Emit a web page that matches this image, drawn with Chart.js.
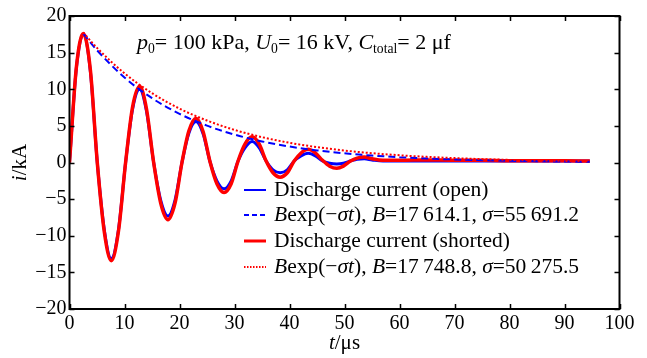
<!DOCTYPE html>
<html>
<head>
<meta charset="utf-8">
<script src="https://cdn.jsdelivr.net/npm/chart.js@4/dist/chart.umd.min.js"></script>
<style>
  html, body { margin: 0; padding: 0; background: #fff; }
  #wrap { width: 647px; height: 358px; }
</style>
</head>
<body>
<div id="wrap"><canvas id="c" width="647" height="358"></canvas></div>
<script>
// Sample times (µs) for the measured discharge currents
const timeUs = [0, 1.25, 2.5, 3.8, 5.05, 6.35, 7.6, 8.9, 10.2, 11.45, 12.75, 14.0, 15.3, 16.6, 17.9,
  19.2, 20.45, 21.7, 23.0, 24.3, 25.55, 26.8, 28.1, 29.4, 30.65, 31.9, 33.2, 34.5, 35.75, 37.0, 38.3,
  39.6, 40.85, 42.1, 43.4, 44.7, 46.0, 47.3, 48.6, 49.8, 51.1, 52.3, 53.6, 55.0, 57, 60, 65, 70, 75,
  80, 85, 90, 94.6];

// Discharge current, open gap (kA)
const currentOpen = [0, 12.9, 17.5, 12.4, 0, -9.3, -13.1, -9.2, 0, 7.2, 10.0, 7.0, 0, -5.2, -7.3,
  -5.1, 0, 4.0, 5.6, 3.9, 0.1, -2.5, -3.6, -2.5, 0.2, 2.0, 2.85, 2.0, 0.2, -1.0, -1.4,
  -1.0, 0.2, 0.9, 1.25, 0.9, 0.2, -0.1, -0.2, -0.1, 0.2, 0.45, 0.5, 0.35, 0.2, 0.2, 0.2, 0.2, 0.2,
  0.2, 0.2, 0.2, 0.2];

// Discharge current, shorted gap (kA)
const currentShorted = [0, 13.0, 17.6, 12.6, 0, -9.6, -13.4, -9.4, 0, 7.5, 10.4, 7.3, 0, -5.6, -7.8,
  -5.5, 0, 4.3, 6.05, 4.2, 0.1, -2.9, -4.1, -2.9, 0.2, 2.5, 3.5, 2.5, 0.2, -1.4, -2.0,
  -1.4, 0.2, 1.3, 1.8, 1.3, 0.3, -0.5, -0.8, -0.5, 0.2, 0.6, 0.75, 0.5, 0.3, 0.3, 0.35, 0.3, 0.3,
  0.25, 0.25, 0.25, 0.2];

// Fitted decay envelopes B·exp(−σt), counted from the first peak (kA)
const envTimeUs = [2.5, 5, 10, 15, 20, 25, 30, 35, 40, 45, 50, 55, 60, 65, 70, 75, 80, 85, 90, 94.6];
const envOpen = [17.61, 15.33, 11.60, 8.78, 6.65, 5.03, 3.81, 2.88, 2.18, 1.65, 1.25, 0.95, 0.72,
  0.54, 0.41, 0.31, 0.235, 0.18, 0.135, 0.10];
const envShorted = [17.75, 15.65, 12.17, 9.47, 7.36, 5.73, 4.45, 3.46, 2.69, 2.10, 1.63, 1.27, 0.99,
  0.77, 0.60, 0.46, 0.36, 0.28, 0.22, 0.17];

const xTicks = [0, 10, 20, 30, 40, 50, 60, 70, 80, 90, 100];
const yTicks = [-20, -15, -10, -5, 0, 5, 10, 15, 20];

const SERIF = '"Liberation Serif", "DejaVu Serif", "Times New Roman", serif';
const BLUE = '#0000ff';
const RED = '#ff0000';

const pts = (xs, ys) => xs.map((x, i) => ({ x: x, y: ys[i] }));

// Mixed-style text: parts are {t, it, sub}
function richWidth(ctx, parts, size) {
  let w = 0;
  for (const p of parts) {
    const s = p.sub ? size * 0.62 : size;
    ctx.font = (p.it ? 'italic ' : '') + s + 'px ' + SERIF;
    w += ctx.measureText(p.t).width;
  }
  return w;
}
function drawRich(ctx, parts, x, y, size, align) {
  let cx = x;
  if (align === 'center') cx = x - richWidth(ctx, parts, size) / 2;
  ctx.textBaseline = 'middle';
  ctx.textAlign = 'left';
  ctx.fillStyle = '#000';
  for (const p of parts) {
    const s = p.sub ? size * 0.62 : size;
    ctx.font = (p.it ? 'italic ' : '') + s + 'px ' + SERIF;
    ctx.fillText(p.t, cx, p.sub ? y + size * 0.28 : y);
    cx += ctx.measureText(p.t).width;
  }
}

const legendRows = [
  { color: BLUE, dash: [], width: 2, parts: [{ t: 'Discharge current (open)' }] },
  { color: BLUE, dash: [5, 3], width: 2, parts: [
    { t: 'B', it: true }, { t: 'exp(\u2212' }, { t: '\u03c3t', it: true }, { t: '), ' },
    { t: 'B', it: true }, { t: '=17\u2009614.1, ' }, { t: '\u03c3', it: true }, { t: '=55\u2009691.2' }] },
  { color: RED, dash: [], width: 3, parts: [{ t: 'Discharge current (shorted)' }] },
  { color: RED, dash: [1.5, 1.5], width: 2, parts: [
    { t: 'B', it: true }, { t: 'exp(\u2212' }, { t: '\u03c3t', it: true }, { t: '), ' },
    { t: 'B', it: true }, { t: '=17\u2009748.8, ' }, { t: '\u03c3', it: true }, { t: '=50\u2009275.5' }] }
];

const framePlugin = {
  id: 'frame',
  afterDraw(chart) {
    const ctx = chart.ctx;
    const a = chart.chartArea;
    const xs = chart.scales.x, ys = chart.scales.y;
    ctx.save();
    // box
    ctx.strokeStyle = '#000';
    ctx.lineWidth = 2;
    ctx.setLineDash([]);
    ctx.strokeRect(a.left, a.top, a.right - a.left, a.bottom - a.top);
    // inward ticks on all four sides
    ctx.lineWidth = 1.5;
    const tl = 5;
    ctx.beginPath();
    for (const v of xTicks) {
      const px = Math.round(xs.getPixelForValue(v)) + 0.5;
      ctx.moveTo(px, a.bottom); ctx.lineTo(px, a.bottom - tl);
      ctx.moveTo(px, a.top); ctx.lineTo(px, a.top + tl);
    }
    for (const v of yTicks) {
      const py = Math.round(ys.getPixelForValue(v)) + 0.5;
      ctx.moveTo(a.left, py); ctx.lineTo(a.left + tl, py);
      ctx.moveTo(a.right, py); ctx.lineTo(a.right - tl, py);
    }
    ctx.stroke();

    // axis titles
    drawRich(ctx, [{ t: 't', it: true }, { t: '/\u03bcs' }], (a.left + a.right) / 2, 343, 21, 'center');
    ctx.save();
    ctx.translate(20, (a.top + a.bottom) / 2);
    ctx.rotate(-Math.PI / 2);
    drawRich(ctx, [{ t: 'i', it: true }, { t: '/kA' }], 0, 0, 21, 'center');
    ctx.restore();

    // condition note
    drawRich(ctx, [
      { t: 'p', it: true }, { t: '0', sub: true }, { t: '= 100 kPa, ' },
      { t: 'U', it: true }, { t: '0', sub: true }, { t: '= 16 kV, ' },
      { t: 'C', it: true }, { t: 'total', sub: true }, { t: '= 2 \u03bcf' }
    ], 137, 43, 22, 'left');

    // legend
    const lx0 = 244, lx1 = 266, tx = 274;
    const rowY = [190, 215, 241, 267];
    legendRows.forEach((r, i) => {
      ctx.strokeStyle = r.color;
      ctx.lineWidth = r.width;
      ctx.setLineDash(r.dash);
      ctx.beginPath();
      ctx.moveTo(lx0, rowY[i]); ctx.lineTo(lx1, rowY[i]);
      ctx.stroke();
      ctx.setLineDash([]);
      drawRich(ctx, r.parts, tx, rowY[i], 21.5, 'left');
    });
    ctx.restore();
  }
};

const tickFont = { family: SERIF, size: 20 };

new Chart(document.getElementById('c'), {
  type: 'line',
  data: {
    datasets: [
      { label: 'Discharge current (open)', data: pts(timeUs, currentOpen), borderColor: BLUE,
        borderWidth: 3, pointRadius: 0, cubicInterpolationMode: 'monotone', order: 4 },
      { label: 'Discharge current (shorted)', data: pts(timeUs, currentShorted), borderColor: RED,
        borderWidth: 3.5, pointRadius: 0, cubicInterpolationMode: 'monotone', order: 3 },
      { label: 'Bexp(−σt) open', data: pts(envTimeUs, envOpen), borderColor: BLUE,
        borderWidth: 2, borderDash: [7, 4], pointRadius: 0, cubicInterpolationMode: 'monotone', order: 2 },
      { label: 'Bexp(−σt) shorted', data: pts(envTimeUs, envShorted), borderColor: RED,
        borderWidth: 2, borderDash: [2, 2], pointRadius: 0, cubicInterpolationMode: 'monotone', order: 1 }
    ]
  },
  options: {
    responsive: false,
    animation: false,
    devicePixelRatio: 1,
    layout: { padding: { top: 16, right: 27.5, left: 0, bottom: 0 } },
    plugins: { legend: { display: false }, tooltip: { enabled: false } },
    scales: {
      x: {
        type: 'linear', min: 0, max: 100,
        afterBuildTicks: s => { s.ticks = xTicks.map(v => ({ value: v })); },
        afterFit: s => { s.height = 49; },
        grid: { display: false, drawTicks: false },
        border: { display: false },
        ticks: { font: tickFont, color: '#000', padding: 3, maxRotation: 0, autoSkip: false }
      },
      y: {
        type: 'linear', min: -20, max: 20,
        afterBuildTicks: s => { s.ticks = yTicks.map(v => ({ value: v })); },
        afterFit: s => { s.width = 69.5; },
        grid: { display: false, drawTicks: false },
        border: { display: false },
        ticks: { font: tickFont, color: '#000', padding: 3, autoSkip: false,
          callback: v => String(v).replace('-', '\u2212') }
      }
    }
  },
  plugins: [framePlugin]
});
</script>
</body>
</html>
